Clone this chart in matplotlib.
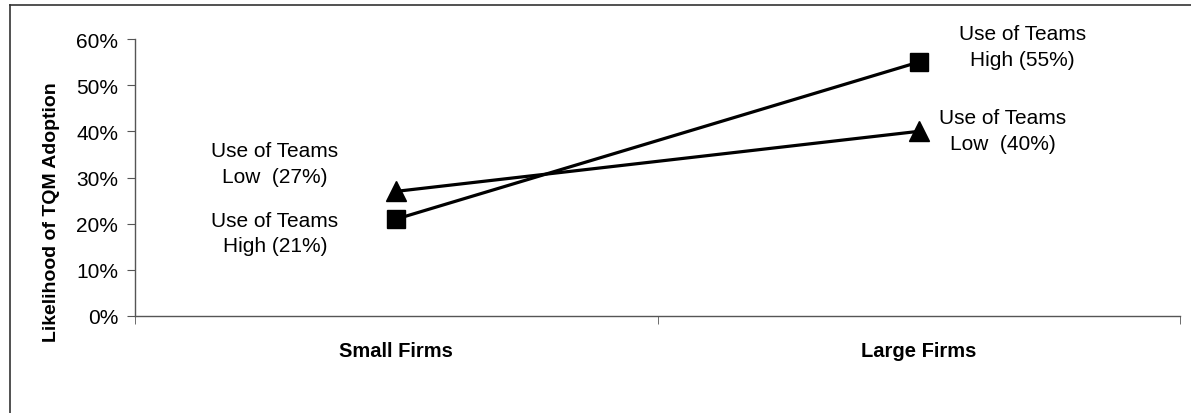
from matplotlib import pyplot as plt
from matplotlib.lines import Line2D
from matplotlib.ticker import FuncFormatter
import numpy as np

plt.rcParams['font.family'] = ['Liberation Sans', 'DejaVu Sans']

firms = ['Small Firms', 'Large Firms']
teams_high = [0.21, 0.55]
teams_low = [0.27, 0.40]
y_ticks = [0.0, 0.1, 0.2, 0.3, 0.4, 0.5, 0.6]

W, H = 1191, 414
fig = plt.figure(figsize=(W / 100, H / 100), dpi=100)
ax = fig.add_axes([135 / W, 1 - 317 / H, 1045 / W, 277 / H])

x = np.arange(len(firms))
ax.plot(x, teams_high, color='black', lw=2.3, marker='s', ms=13)
ax.plot(x, teams_low, color='black', lw=2.3, marker='^', ms=14)

ax.set_xlim(-0.5, 1.5)
ax.set_ylim(0, 0.6)

# category labels (no tick marks), boundary ticks as minor
ax.set_xticks(x)
ax.set_xticklabels(firms, fontsize=14.5, fontweight='bold')
ax.tick_params(axis='x', which='major', length=0, pad=18)
ax.set_xticks([-0.5, 0.5, 1.5], minor=True)
ax.tick_params(axis='x', which='minor', length=6, color='#555555')

ax.set_yticks(y_ticks)
ax.yaxis.set_major_formatter(FuncFormatter(lambda v, p: '%d%%' % round(v * 100)))
ax.tick_params(axis='y', length=6, pad=6, labelsize=15, color='#555555')

ax.set_ylabel('Likelihood of TQM Adoption', fontsize=14, fontweight='bold', va='center')
ax.yaxis.set_label_coords(-0.080, 0.38)

for s in ['top', 'right']:
    ax.spines[s].set_visible(False)
for s in ['left', 'bottom']:
    ax.spines[s].set_color('#555555')
    ax.spines[s].set_linewidth(1.0)

# point labels
def lab(level, v):
    gap = ' ' if level == 'High' else '  '
    return 'Use of Teams\n%s%s(%d%%)' % (level, gap, round(v * 100))

kw = dict(ha='center', va='center', fontsize=15, linespacing=1.45)
ax.text(-0.232, 0.331, lab('Low', teams_low[0]), **kw)
ax.text(-0.232, 0.180, lab('High', teams_high[0]), **kw)
ax.text(1.198, 0.584, lab('High', teams_high[1]), **kw)
ax.text(1.161, 0.401, lab('Low', teams_low[1]), **kw)

# outer frame (top and left visible)
fx, fy = 9.5 / W, 1 - 5.5 / H
fig.add_artist(Line2D([fx, fx], [0, fy], transform=fig.transFigure, color='#333333', lw=1.2))
fig.add_artist(Line2D([fx, 1], [fy, fy], transform=fig.transFigure, color='#333333', lw=1.2))

plt.savefig('out.png', dpi=100)
